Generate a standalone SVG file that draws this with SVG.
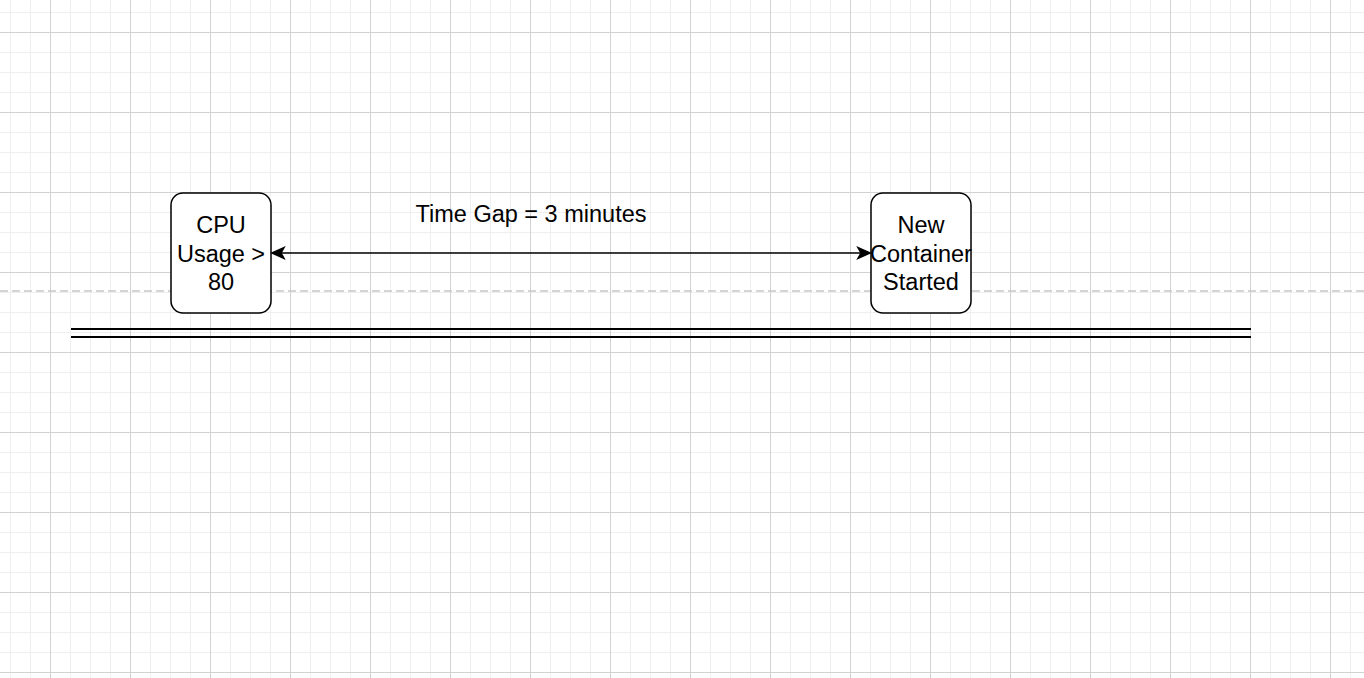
<svg xmlns="http://www.w3.org/2000/svg" width="1364" height="678" viewBox="0 0 1364 678">
  <defs>
    <pattern id="grid" patternUnits="userSpaceOnUse" x="10" y="-8" width="80" height="80">
      <path d="M0.5,0V80M20.5,0V80M60.5,0V80M0,0.5H80M0,20.5H80M0,60.5H80" stroke="#efefef" stroke-width="1" fill="none"/>
      <path d="M40.5,0V80M0,40.5H80" stroke="#d2d2d2" stroke-width="1" fill="none"/>
    </pattern>
    <style>
      .box { fill: #ffffff; stroke: #000000; stroke-width: 1.5; }
      .lbl { font-family: "Liberation Sans", Arial, Helvetica, sans-serif; font-size: 23.5px; fill: #000000; text-anchor: middle; }
      .edge { stroke: #000000; stroke-width: 1.6; fill: none; }
      .head { fill: #000000; stroke: #000000; stroke-width: 1.5; stroke-linejoin: miter; }
    </style>
  </defs>
  <rect x="0" y="0" width="1364" height="678" fill="#ffffff"/>
  <rect x="0" y="0" width="1364" height="678" fill="url(#grid)"/>

  <g id="dashed-line">
    <line x1="0" y1="291" x2="1364" y2="291" stroke="#c6c6c6" stroke-width="1.5" stroke-dasharray="8 4"/>
  </g>

  <g id="double-line">
    <line x1="71" y1="329" x2="1251" y2="329" stroke="#000000" stroke-width="2"/>
    <line x1="71" y1="337" x2="1251" y2="337" stroke="#000000" stroke-width="2"/>
  </g>

  <g id="cpu-usage">
    <rect class="box" x="171" y="193" width="100" height="120" rx="12" ry="12"/>
    <text class="lbl" x="221" y="233">CPU</text>
    <text class="lbl" x="221" y="261.5">Usage &gt;</text>
    <text class="lbl" x="221" y="290">80</text>
  </g>

  <g id="new-container">
    <rect class="box" x="871" y="193" width="100" height="120" rx="12" ry="12"/>
    <text class="lbl" x="921" y="233">New</text>
    <text class="lbl" x="921" y="261.5">Container</text>
    <text class="lbl" x="921" y="290">Started</text>
  </g>

  <g id="connectors">
    <line class="edge" x1="281" y1="253" x2="861" y2="253"/>
    <path class="head" d="M272,253 L284,247.5 L281,253 L284,258.5 Z"/>
    <path class="head" d="M870,253 L858,247.5 L861,253 L858,258.5 Z"/>
    <text class="lbl" x="531" y="222">Time Gap = 3 minutes</text>
  </g>
</svg>
